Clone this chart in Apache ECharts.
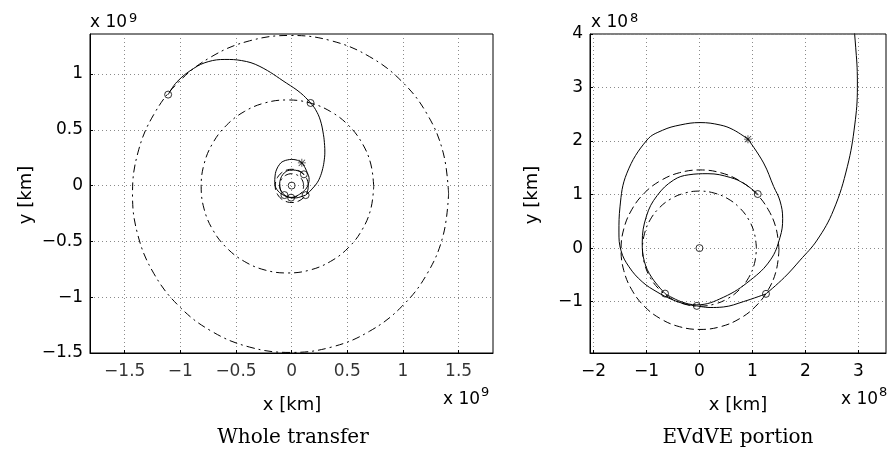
<!DOCTYPE html>
<html>
<head>
<meta charset="utf-8">
<script src="https://cdn.jsdelivr.net/npm/echarts@6.0.0/dist/echarts.min.js"></script>
<style>
  html, body { margin: 0; padding: 0; background: #fff; }
  #chart { width: 894px; height: 452px; }
</style>
</head>
<body>
<div id="chart"></div>
<script>
// tick labels
const leftXTicks = [-1.5, -1, -0.5, 0, 0.5, 1, 1.5]
const leftYTicks = [-1.5, -1, -0.5, 0, 0.5, 1]
const rightXTicks = [-2, -1, 0, 1, 2, 3]
const rightYTicks = [-1, 0, 1, 2, 3, 4]

// planet orbits
// Earth and Venus in units of 1e8 km
const earthOrbit = [[1.500,-0.030],[1.449,0.356],[1.300,0.715],[1.064,1.024],[0.755,1.260],[0.396,1.409],[0.010,1.460],[-0.376,1.409],[-0.735,1.260],[-1.044,1.024],[-1.280,0.715],[-1.429,0.356],[-1.480,-0.030],[-1.429,-0.416],[-1.280,-0.775],[-1.044,-1.084],[-0.735,-1.320],[-0.376,-1.469],[0.010,-1.520],[0.396,-1.469],[0.755,-1.320],[1.064,-1.084],[1.300,-0.775],[1.449,-0.416],[1.500,-0.030]]
const venusOrbit = [[1.075,-0.010],[1.038,0.268],[0.931,0.528],[0.760,0.750],[0.538,0.921],[0.278,1.028],[0,1.065],[-0.278,1.028],[-0.538,0.921],[-0.760,0.750],[-0.931,0.528],[-1.038,0.268],[-1.075,-0.010],[-1.038,-0.288],[-0.931,-0.548],[-0.760,-0.770],[-0.538,-0.941],[-0.278,-1.048],[0,-1.085],[0.278,-1.048],[0.538,-0.941],[0.760,-0.770],[0.931,-0.548],[1.038,-0.288],[1.075,-0.010]]
// Jupiter and Saturn in units of 1e9 km
const jupiterOrbit = [[0.737,-0.008],[0.711,0.193],[0.633,0.380],[0.510,0.540],[0.350,0.663],[0.163,0.741],[-0.038,0.767],[-0.239,0.741],[-0.426,0.663],[-0.586,0.540],[-0.709,0.380],[-0.787,0.193],[-0.813,-0.008],[-0.787,-0.209],[-0.709,-0.396],[-0.586,-0.556],[-0.426,-0.679],[-0.239,-0.757],[-0.038,-0.783],[0.163,-0.757],[0.350,-0.679],[0.510,-0.556],[0.633,-0.396],[0.711,-0.209],[0.737,-0.008]]
const saturnOrbit = [[1.410,-0.075],[1.362,0.293],[1.220,0.635],[0.994,0.929],[0.700,1.155],[0.358,1.297],[-0.010,1.345],[-0.378,1.297],[-0.720,1.155],[-1.014,0.929],[-1.240,0.635],[-1.382,0.293],[-1.430,-0.075],[-1.382,-0.443],[-1.240,-0.785],[-1.014,-1.079],[-0.720,-1.305],[-0.378,-1.447],[-0.010,-1.495],[0.358,-1.447],[0.700,-1.305],[0.994,-1.079],[1.220,-0.785],[1.362,-0.443],[1.410,-0.075]]

// transfer legs, units of 1e8 km
const legEV = [[1.10,1.01],[0.85,1.20],[0.58,1.32],[0.16,1.39],[-0.20,1.37],[-0.49,1.27],[-0.80,0.98],[-1.00,0.60],[-1.08,0.10],[-1.04,-0.25],[-0.90,-0.55],[-0.65,-0.85]]
const legVdsm = [[-0.65,-0.85],[-0.35,-1.00],[-0.05,-1.06],[0.45,-0.92],[0.96,-0.60],[1.34,-0.22],[1.52,0.20],[1.57,0.55],[1.52,0.88],[1.40,1.15],[1.21,1.59],[0.915,2.035]]
const legDsmV = [[0.915,2.035],[0.64,2.21],[0.39,2.30],[0.01,2.345],[-0.365,2.30],[-0.70,2.20],[-0.99,2.02],[-1.37,1.40],[-1.50,0.77],[-1.52,0.30],[-1.48,-0.05],[-1.33,-0.35],[-1.08,-0.63],[-0.80,-0.82],[-0.52,-0.96],[-0.25,-1.05],[-0.05,-1.08]]
const legVE = [[-0.05,-1.08],[0.20,-1.11],[0.45,-1.10],[0.83,-1.00],[1.255,-0.855]]
const legEout = [[1.255,-0.855],[1.60,-0.55],[1.90,-0.225],[2.22,0.15],[2.53,0.71],[2.79,1.52],[2.93,2.30],[2.98,3.00]]
// cruise to Jupiter and Saturn, units of 1e9 km
const legCruise = [[0.298,0.300],[0.296,0.360],[0.285,0.460],[0.257,0.587],[0.215,0.680],[0.170,0.740],[0.080,0.830],[-0.045,0.917],[-0.285,1.067],[-0.450,1.120],[-0.600,1.130],[-0.750,1.110],[-0.880,1.050],[-1.030,0.930],[-1.110,0.815]]

// markers
const flybyInner = [[0,0],[1.10,1.01],[-0.65,-0.85],[-0.05,-1.08],[1.255,-0.855]] // 1e8 km
const dsmPoint = [[0.915,2.035]] // 1e8 km
const flybyOuter = [[0.17,0.74],[-1.11,0.815]] // 1e9 km

const to1e9 = arr => arr.map(p => [p[0] / 10, p[1] / 10])
const to1e8 = arr => arr.map(p => [p[0] * 10, p[1] * 10])

const FONT = '"DejaVu Sans", Arial, sans-serif'
const SERIF = '"DejaVu Serif", "Liberation Serif", serif'
const DASH = [8, 4]
const DASHDOT = [8, 4, 2, 4]
const starPath = 'path://M9,0L11,0L11,20L9,20Z M0,9L20,9L20,11L0,11Z M1.4,2.8L2.8,1.4L18.6,17.2L17.2,18.6Z M17.2,1.4L18.6,2.8L2.8,18.6L1.4,17.2Z'

function fmt(v) {
  return String(v).replace('-', '\u2212')
}

function makeAxis(idx, min, max, ticks, isX, hideLabels) {
  return {
    type: 'value',
    gridIndex: idx,
    min: min,
    max: max,
    axisLine: { show: true, onZero: false, lineStyle: { color: '#000', width: 1 } },
    axisTick: { show: true, inside: true, length: 3, customValues: ticks, lineStyle: { color: '#000' } },
    axisLabel: {
      show: !hideLabels,
      customValues: ticks,
      formatter: fmt,
      color: '#000',
      fontFamily: FONT,
      fontSize: 17,
      margin: isX ? 10 : 7,
      showMinLabel: true,
      showMaxLabel: true,
      hideOverlap: false
    },
    splitLine: { show: true, lineStyle: { color: '#8a8a8a', width: 1, type: [1, 3] } }
  }
}

function line(data, idx, dash) {
  return {
    type: 'line',
    xAxisIndex: idx,
    yAxisIndex: idx,
    data: data,
    smooth: 0.4,
    smoothMonotone: 'none',
    symbol: 'none',
    silent: true,
    clip: true,
    lineStyle: { color: '#000', width: 1, type: dash || 'solid' }
  }
}

function marks(data, idx, star) {
  return {
    type: 'scatter',
    xAxisIndex: idx,
    yAxisIndex: idx,
    data: data,
    symbol: star ? starPath : 'circle',
    symbolSize: star ? 8 : 7,
    silent: true,
    itemStyle: star ? { color: '#000' } : { color: 'none', borderColor: '#000', borderWidth: 1 }
  }
}

// left x axis tick labels, set at the bottom edge through the axis scale
function tickLabels(ticks, yEdge, idx) {
  return {
    type: 'scatter',
    xAxisIndex: idx,
    yAxisIndex: idx,
    data: ticks.map(v => [v, yEdge]),
    symbol: 'circle',
    symbolSize: 0,
    silent: true,
    clip: false,
    itemStyle: { color: 'none' },
    label: {
      show: true,
      position: 'bottom',
      distance: 10,
      formatter: p => fmt(p.value[0]),
      color: '#000',
      fontFamily: FONT,
      fontSize: 17
    },
    labelLayout: { hideOverlap: false }
  }
}

function txt(x, y, text, size, align, family, rotation) {
  return {
    type: 'text',
    x: x,
    y: y,
    rotation: rotation || 0,
    silent: true,
    style: {
      text: text,
      fill: '#000',
      font: size + 'px ' + (family || FONT),
      align: align || 'center',
      verticalAlign: 'middle',
      textAlign: align || 'center',
      textVerticalAlign: 'middle'
    }
  }
}

const chart = echarts.init(document.getElementById('chart'))

chart.setOption({
  animation: false,
  backgroundColor: '#fff',
  grid: [
    { left: 90, top: 34, width: 403, height: 319, show: true, borderColor: '#000', borderWidth: 1, backgroundColor: 'transparent' },
    { left: 590, top: 34, width: 296, height: 319, show: true, borderColor: '#000', borderWidth: 1, backgroundColor: 'transparent' }
  ],
  xAxis: [
    makeAxis(0, -1.812, 1.809, leftXTicks, true, true),
    makeAxis(1, -2.066, 3.52, rightXTicks, true)
  ],
  yAxis: [
    makeAxis(0, -1.5, 1.358, leftYTicks, false),
    makeAxis(1, -1.96, 4.0, rightYTicks, false)
  ],
  series: [
    // whole transfer, 1e9 km
    line(saturnOrbit, 0, DASHDOT),
    line(jupiterOrbit, 0, DASHDOT),
    line(to1e9(earthOrbit), 0, DASH),
    line(to1e9(venusOrbit), 0, DASHDOT),
    line(to1e9(legEV), 0),
    line(to1e9(legVdsm), 0),
    line(to1e9(legDsmV), 0),
    line(to1e9(legVE), 0),
    line(to1e9(legEout).concat(legCruise.slice(1)), 0),
    marks(to1e9(flybyInner).concat(flybyOuter), 0),
    marks(to1e9(dsmPoint), 0, true),
    tickLabels(leftXTicks, -1.5, 0),
    // EVdVE portion, 1e8 km
    line(earthOrbit, 1, DASH),
    line(venusOrbit, 1, DASHDOT),
    line(legEV, 1),
    line(legVdsm, 1),
    line(legDsmV, 1),
    line(legVE, 1),
    line(legEout.concat(to1e8(legCruise).slice(1)), 1),
    marks(flybyInner, 1),
    marks(dsmPoint, 1, true)
  ],
  graphic: [
    // left panel
    txt(90, 22.5, 'x 10', 17, 'left'),
    txt(129, 19, '9', 13, 'left'),
    txt(26, 195, 'y [km]', 18, 'center', FONT, Math.PI / 2),
    txt(292, 405, 'x [km]', 18),
    txt(443, 400, 'x 10', 17, 'left'),
    txt(481, 393, '9', 13, 'left'),
    txt(293, 438, 'Whole transfer', 20, 'center', SERIF),
    // right panel
    txt(591, 22.5, 'x 10', 17, 'left'),
    txt(630, 19, '8', 13, 'left'),
    txt(532, 195, 'y [km]', 18, 'center', FONT, Math.PI / 2),
    txt(738, 405, 'x [km]', 18),
    txt(841, 400, 'x 10', 17, 'left'),
    txt(879, 393, '8', 13, 'left'),
    txt(738, 438, 'EVdVE portion', 20, 'center', SERIF)
  ]
})
</script>
</body>
</html>
